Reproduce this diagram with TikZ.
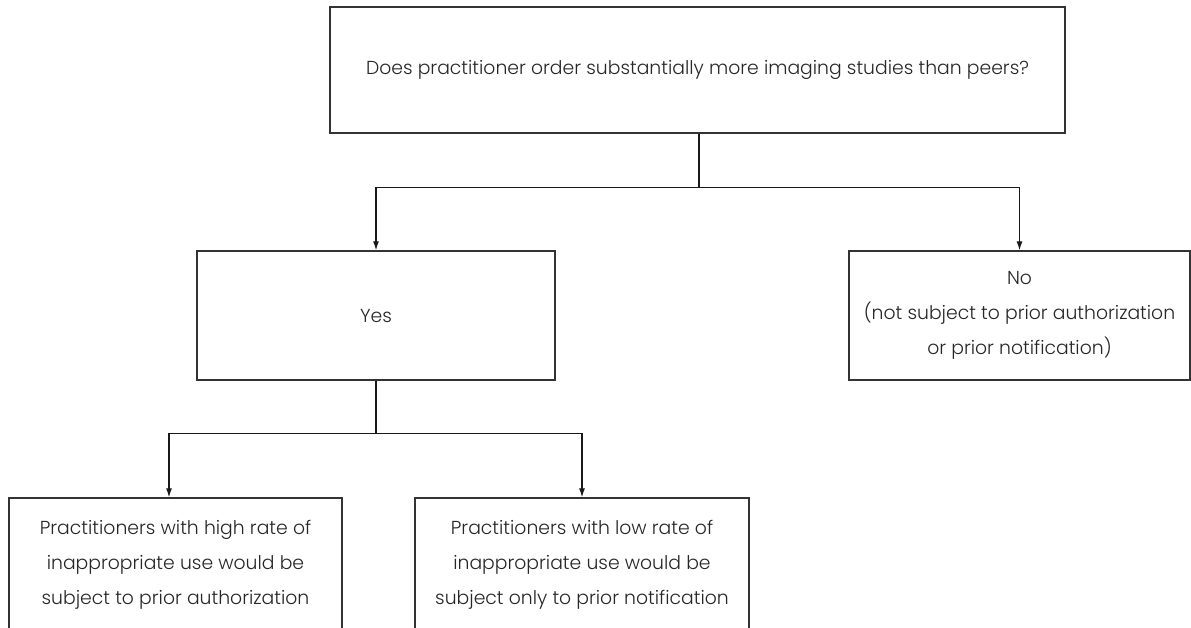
\documentclass[tikz,border=0pt]{standalone}
\usepackage{fontspec}
\setmainfont{Poppins}[UprightFont=* Light]
\usepackage{tikz}
\usetikzlibrary{positioning,calc,arrows.meta}

\begin{document}
\begin{tikzpicture}[
            x=1pt, y=-1pt,
            box/.style={rectangle, draw=black!80, line width=1.3pt, align=center, inner sep=0pt,
                        text=black!85, font=\fontsize{18.8}{35}\selectfont},
            link/.style={line width=1.2pt, draw=black!90},
            arrow/.style={link, -{Latex[length=9pt, width=6pt]}}
        ]
            \useasboundingbox (0,0) rectangle (1191,627);

            % Question
            \node[box, minimum width=735pt, minimum height=126pt] (q) at (697.5,70) {Does practitioner order substantially more imaging studies than peers?};

            % Answers
            \node[box, minimum width=358pt, minimum height=129pt] (yes) at (376,315.5) {Yes};
            \node[box, minimum width=341pt, minimum height=129pt] (no) at (1019.5,315.5) {No\\(not subject to prior authorization\\or prior notification)};

            % Outcomes
            \node[box, minimum width=333pt, minimum height=134pt] (high) at (175.5,565) {Practitioners with high rate of\\inappropriate use would be\\subject to prior authorization};
            \node[box, minimum width=334pt, minimum height=134pt] (low) at (582,565) {Practitioners with low rate of\\inappropriate use would be\\subject only to prior notification};

            % Connections from question to answers
            \draw[link] ([xshift=1.5pt]q.south) -- ++(0,54) coordinate (s1);
            \draw[arrow] (s1) -| (yes.north);
            \draw[arrow] (s1) -| (no.north);

            % Connections from yes to outcomes
            \draw[link] (yes.south) -- ++(0,53) coordinate (s2);
            \draw[arrow] (s2) -| ([xshift=-6.5pt]high.north);
            \draw[arrow] (s2) -| (low.north);
        \end{tikzpicture}
\end{document}
